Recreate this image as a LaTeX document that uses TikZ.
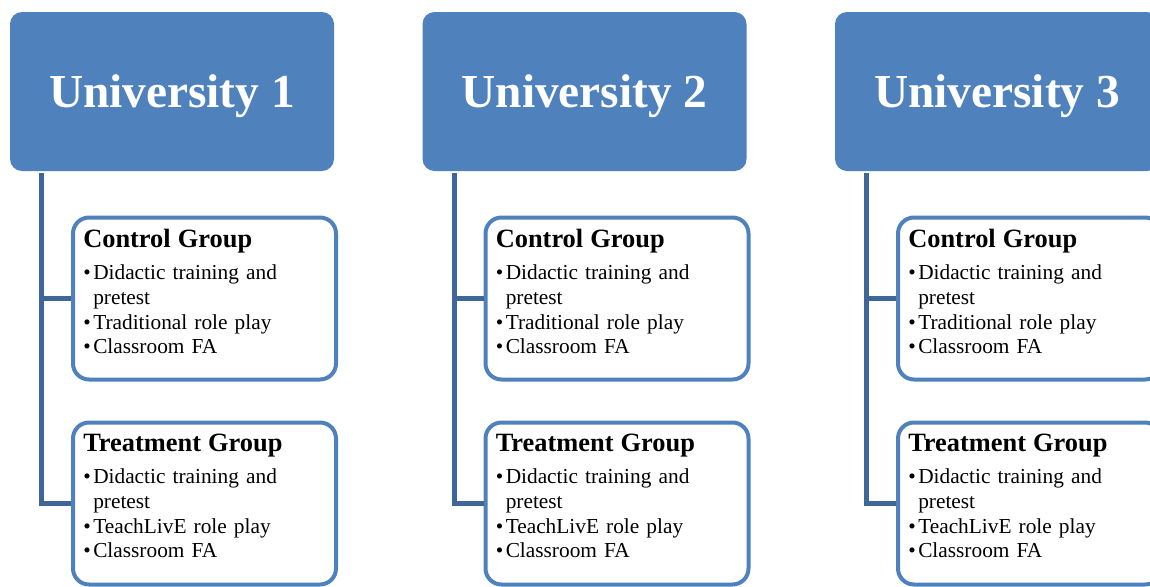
\documentclass[tikz,border=0pt]{standalone}
\usepackage{fontspec}
\setmainfont{Liberation Serif}
\usetikzlibrary{positioning}
\definecolor{unifill}{RGB}{79,129,189}
\definecolor{linkblue}{RGB}{62,102,152}
\tikzset{
  unibox/.style={rectangle, rounded corners=9pt, fill=unifill, inner sep=0pt,
    minimum width=243pt, minimum height=119.25pt, text=white,
    font=\fontsize{35.5}{40}\bfseries\selectfont, text height=23.4pt, text depth=0pt},
  grpbox/.style={rectangle, rounded corners=12pt, draw=unifill, line width=3pt,
    fill=white, minimum width=197.25pt, minimum height=121.5pt, inner sep=0pt},
  grptext/.style={inner sep=0pt, text width=180pt, align=left,
    font=\fontsize{16}{18.5}\selectfont},
  link/.style={draw=linkblue, line width=3.4pt},
}
\newcommand\grphead[1]{{\fontsize{19.8}{23}\bfseries\selectfont #1\par}\vspace{6pt}}
\newcommand\grpitem[1]{\par\hangindent=7.5pt\hangafter=1\noindent\makebox[7.5pt][l]{\textbullet}#1}

\begin{document}
\begin{tikzpicture}[x=0.75pt, y=-0.75pt]
  \useasboundingbox (0,0) rectangle (1150,586);
  \clip (0,0) rectangle (1150,586);

  \foreach \i [evaluate=\i as \dx using 412.5*(\i-1)] in {1,2,3} {
    % university header
    \node[unibox] (uni\i) at (172+\dx, 91.5) {University \i};

    % the two groups
    \node[grpbox] (ctrl\i) at (204.5+\dx, 298.5) {};
    \node[grpbox] (treat\i) at (204.5+\dx, 503.5) {};

    \draw[link] ([xshift=24pt, yshift=-1.5pt]uni\i.south west) |- (ctrl\i.west);
    \draw[link] ([xshift=24pt, yshift=-1.5pt]uni\i.south west) |- (treat\i.west);

    \node[grptext, below right=9.75pt and 9pt of ctrl\i.north west] (ctrltext\i) {%
      \grphead{Control Group}%
      \grpitem{Didactic training and\hfil\break pretest}%
      \grpitem{Traditional role play}%
      \grpitem{Classroom FA}};
    \node[grptext, below right=9.75pt and 9pt of treat\i.north west] (treattext\i) {%
      \grphead{Treatment Group}%
      \grpitem{Didactic training and\hfil\break pretest}%
      \grpitem{TeachLivE role play}%
      \grpitem{Classroom FA}};
  }
\end{tikzpicture}
\end{document}
